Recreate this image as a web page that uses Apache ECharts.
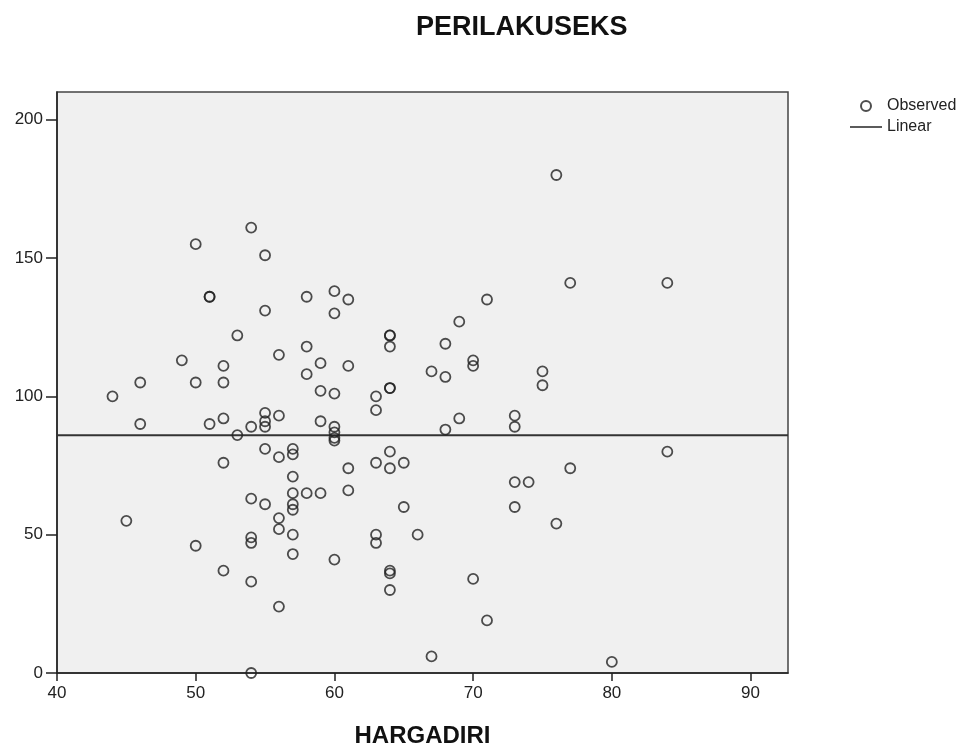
<!DOCTYPE html>
<html>
<head>
<meta charset="utf-8">
<title>PERILAKUSEKS</title>
<script src="https://cdn.jsdelivr.net/npm/echarts@6/dist/echarts.min.js"></script>
<style>
  html, body { margin: 0; padding: 0; background: #fff; }
  #chart { width: 972px; height: 751px; }
</style>
</head>
<body>
<div id="chart"></div>
<script>
// observed points (HARGADIRI, PERILAKUSEKS)
var hargaDiri = [
  44, 45, 46, 46, 49, 50, 50, 50, 51, 51, 51,
  52, 52, 52, 52, 52, 53, 53,
  54, 54, 54, 54, 54, 54, 54,
  55, 55, 55, 55, 55, 55, 55,
  56, 56, 56, 56, 56, 56,
  57, 57, 57, 57, 57, 57, 57, 57,
  58, 58, 58, 58, 59, 59, 59, 59,
  60, 60, 60, 60, 60, 60, 60, 60,
  61, 61, 61, 61, 63, 63, 63, 63, 63,
  64, 64, 64, 64, 64, 64, 64, 64, 64, 64,
  65, 65, 66, 67, 67, 68, 68, 68, 69, 69,
  70, 70, 70, 71, 71, 73, 73, 73, 73, 74,
  75, 75, 76, 76, 77, 77, 80, 84, 84
];
var perilakuSeks = [
  100, 55, 105, 90, 113, 155, 105, 46, 136, 136, 90,
  111, 105, 92, 76, 37, 122, 86,
  161, 89, 63, 49, 47, 33, 0,
  151, 131, 94, 91, 89, 81, 61,
  115, 93, 78, 56, 52, 24,
  81, 79, 71, 65, 61, 59, 50, 43,
  136, 118, 108, 65, 112, 102, 91, 65,
  138, 130, 101, 89, 87, 85, 84, 41,
  135, 111, 74, 66, 100, 95, 76, 50, 47,
  122, 122, 118, 103, 103, 80, 74, 37, 36, 30,
  76, 60, 50, 109, 6, 119, 107, 88, 127, 92,
  113, 111, 34, 135, 19, 93, 89, 69, 60, 69,
  109, 104, 180, 54, 141, 74, 4, 141, 80
];
// linear fit (nearly flat)
var fitX = [40, 92.7];
var fitY = [85.9, 85.9];
var xTicks = [40, 50, 60, 70, 80, 90];
var yTicks = [0, 50, 100, 150, 200];

var observed = hargaDiri.map(function (x, i) { return [x, perilakuSeks[i]]; });
var linear = fitX.map(function (x, i) { return [x, fitY[i]]; });

var font = '"Liberation Sans", Arial, sans-serif';
// thin bar icon for the "Linear" legend entry (invisible corner points keep the box 32x10)
var lineIcon = 'path://M0,0 L0,0 M0,4.2 L32,4.2 L32,5.8 L0,5.8 Z M32,10 L32,10';

var chart = echarts.init(document.getElementById('chart'));
chart.setOption({
  animation: false,
  textStyle: { fontFamily: font },
  title: {
    text: 'PERILAKUSEKS',
    left: 411,
    top: 9,
    textStyle: { fontSize: 27, fontWeight: 'bold', color: '#111', fontFamily: font }
  },
  legend: {
    orient: 'vertical',
    left: 850,
    top: 98,
    padding: 0,
    itemWidth: 32,
    itemHeight: 10,
    itemGap: 5,
    textStyle: { fontSize: 16, color: '#222', fontFamily: font },
    data: [
      { name: 'Observed', icon: 'circle' },
      { name: 'Linear', icon: lineIcon }
    ]
  },
  grid: {
    left: 57,
    top: 92,
    right: 184,
    bottom: 78,
    outerBoundsMode: 'none',
    show: true,
    backgroundColor: '#f0f0f0',
    borderColor: '#444',
    borderWidth: 1.5
  },
  xAxis: {
    type: 'value',
    min: 40,
    max: 92.7,
    interval: 10,
    name: 'HARGADIRI',
    nameLocation: 'middle',
    nameGap: 51,
    nameTextStyle: { fontSize: 24, fontWeight: 'bold', color: '#111', fontFamily: font },
    splitLine: { show: false },
    axisLine: { lineStyle: { color: '#222', width: 1.5 } },
    axisTick: { length: 8, lineStyle: { color: '#222', width: 1.5 }, customValues: xTicks },
    axisLabel: { margin: 12, fontSize: 17, color: '#222', customValues: xTicks }
  },
  yAxis: {
    type: 'value',
    min: 0,
    max: 210,
    interval: 50,
    splitLine: { show: false },
    axisLine: { show: true, lineStyle: { color: '#222', width: 1.5 } },
    axisTick: { show: true, length: 11, lineStyle: { color: '#222', width: 1.5 }, customValues: yTicks },
    axisLabel: { margin: 14, fontSize: 17, color: '#222', customValues: yTicks }
  },
  series: [
    {
      name: 'Observed',
      type: 'scatter',
      symbol: 'circle',
      symbolSize: 10,
      itemStyle: { color: 'rgba(0,0,0,0)', borderColor: '#222', borderWidth: 1.8 },
      data: observed,
      z: 3
    },
    {
      name: 'Linear',
      type: 'line',
      symbol: 'none',
      lineStyle: { color: '#333', width: 2 },
      itemStyle: { color: '#333' },
      data: linear,
      z: 2
    }
  ]
});
</script>
</body>
</html>
